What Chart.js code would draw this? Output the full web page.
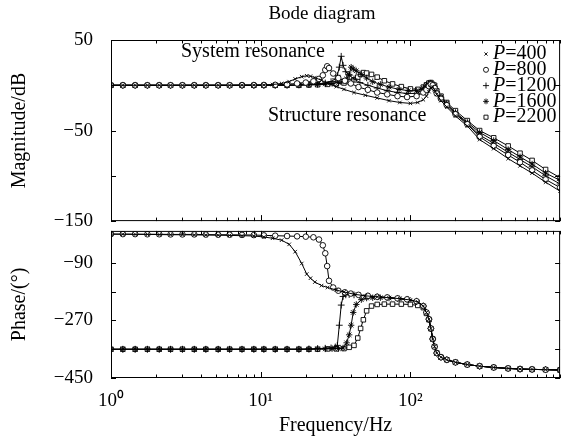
<!DOCTYPE html>
<html>
<head>
<meta charset="utf-8">
<script src="https://cdn.jsdelivr.net/npm/chart.js@4.4.0/dist/chart.umd.min.js"></script>
<style>
  html, body { margin: 0; padding: 0; background: #fff; }
  #wrap { position: relative; width: 565px; height: 436px; }
  canvas { position: absolute; left: 0; }
  #mag { top: 0; }
  #phase { top: 226px; }
</style>
</head>
<body>
<div id="wrap">
  <canvas id="mag" width="565" height="226"></canvas>
  <canvas id="phase" width="565" height="210"></canvas>
</div>
<script>
// load levels (legend)
const loads = [400, 800, 1200, 1600, 2200];

// frequency points (Hz) shared at both ends of the sweep
const lowFreq = [1, 1.2, 1.45, 1.75, 2.1, 2.5, 3, 3.6, 4.3, 5.2, 6.2, 7.5, 9];
const structFreq = [128, 133, 137, 141];
const tailFreq = [145, 150, 160, 175, 200, 240, 290, 360, 450, 540, 650, 800, 1000];

// P=400
const freq400 = [...lowFreq, 10.5, 12, 13.8, 15.5, 17, 18.8, 20.3, 21.5, 23, 25.5, 28, 32, 36, 42, 50, 60, 72, 85, 100, 112, 122, ...structFreq, ...tailFreq];
const mag400 = [0, 0, 0, 0, 0, 0, 0, 0, 0, 0, 0, 0.1, 0.2,
  0.3, 0.8, 2, 4, 7, 9.5, 10.5, 10, 8.5, 5.5, 2, -1.5, -4.5, -8, -11, -14, -17, -19, -20, -19, -16,
  -12, -7, -3, -2,
  -5, -10, -17, -24, -34, -45, -60, -70, -81, -89, -97, -107, -117];
const phase400 = [0, -0.5, -1, -1, -1.5, -2, -2, -2.5, -3, -3.5, -4, -5, -6,
  -9, -13, -19, -32, -55, -92, -125, -138, -150, -161, -167, -175, -181, -188, -193, -196, -199, -202, -206, -212, -225,
  -245, -266, -295, -328,
  -352, -372, -385, -393, -401, -408, -413, -417, -420, -422, -423, -424, -425];

// P=800
const freq800 = [...lowFreq, 10.5, 12.5, 15, 17.5, 20, 22.5, 24.5, 26, 27, 27.8, 28.6, 30.5, 33, 36.5, 40, 45, 52, 60, 70, 82, 95, 110, 122, ...structFreq, ...tailFreq];
const mag800 = [0, 0, 0, 0, 0, 0, 0, 0, 0, 0, 0, 0.1, 0.2,
  0.3, 0.5, 1, 2, 3, 4.5, 7, 11, 17, 21, 19, 13, 8, 5, 2, -2, -5, -8, -10, -12, -13, -12, -8,
  -5, -1, 1, 0,
  -3, -9, -15, -22, -32, -43, -57, -67, -77, -85, -94, -104, -113];
const phase800 = [0, 0, 0, -0.5, -0.5, -1, -1, -1, -1.5, -2, -2, -2.5, -3,
  -4, -5, -6, -7, -8, -10, -17, -35, -60, -100, -146, -167, -177, -182, -186, -190, -193, -196, -198, -201, -204, -210, -225,
  -245, -266, -295, -328,
  -352, -372, -385, -393, -401, -408, -413, -417, -420, -422, -423, -424, -425];

// P=1200
const freq1200 = [...lowFreq, 10.5, 12.5, 15, 18, 21, 24, 27, 29.5, 31.5, 32.5, 33.5, 34.5, 35.5, 37, 39, 42, 46, 52, 60, 70, 82, 95, 110, 122, ...structFreq, ...tailFreq];
const mag1200 = [0, 0, 0, 0, 0, 0, 0, 0, 0, 0, 0, 0, 0,
  0, 0, 0.2, 0.5, 1, 1.5, 2.5, 4, 7, 11, 20, 32, 22, 15, 11, 7, 3, 0, -3, -6, -8, -9, -9, -5,
  -2, 1, 2, 0,
  -2, -8, -14, -21, -31, -42, -55, -64, -74, -82, -90, -100, -109];
const phase1200 = [-360, -360, -360, -360, -360, -360, -360, -360, -360, -360, -360, -360, -360,
  -360, -360, -360, -360, -359, -358, -357, -356, -353, -348, -285, -222, -195, -190, -189, -190, -192, -194, -196, -198, -201, -204, -210, -225,
  -245, -266, -295, -328,
  -352, -372, -385, -393, -401, -408, -413, -417, -420, -422, -423, -424, -425];

// P=1600
const freq1600 = [...lowFreq, 10.5, 12.5, 15, 18, 21, 24, 27, 30, 33, 35.5, 37.5, 39, 40.2, 41.5, 43.5, 47, 51, 56, 63, 72, 84, 97, 110, 122, ...structFreq, ...tailFreq];
const mag1600 = [0, 0, 0, 0, 0, 0, 0, 0, 0, 0, 0, 0, 0,
  0, 0, 0, 0.3, 0.6, 1, 1.5, 2, 3, 4.5, 7, 12, 20, 18, 16, 12, 8, 4, 1, -2, -4.5, -6, -6, -3,
  0, 2, 2.5, 0.5,
  -1, -7, -13, -20, -30, -41, -52, -61, -71, -79, -87, -97, -105];
const phase1600 = [-360, -360, -360, -360, -360, -360, -360, -360, -360, -360, -360, -360, -360,
  -360, -360, -360, -360, -360, -359, -359, -358, -358, -356, -340, -315, -285, -245, -220, -205, -200, -199, -199, -200, -202, -205, -211, -225,
  -245, -266, -295, -328,
  -352, -372, -385, -393, -401, -408, -413, -417, -420, -422, -423, -424, -425];

// P=2200
const freq2200 = [...lowFreq, 10.5, 12.5, 15, 18, 21, 24, 28, 32, 36, 39, 42, 44.5, 46.5, 48.5, 51, 55, 60, 67, 76, 87, 100, 112, 122, ...structFreq, ...tailFreq];
const mag2200 = [0, 0, 0, 0, 0, 0, 0, 0, 0, 0, 0, 0, 0,
  0, 0, 0, 0, 0.3, 0.6, 1, 1.5, 2.5, 4, 6, 9, 12, 14, 13.5, 12, 9, 5, 1.5, -1.5, -4, -4.5, -2,
  0.5, 2.5, 3, 1,
  0, -6, -12, -19, -28, -39, -50, -58, -67, -75, -83, -93, -102];
const phase2200 = [-360, -360, -360, -360, -360, -360, -360, -360, -360, -360, -360, -360, -360,
  -360, -360, -360, -360, -360, -360, -359, -359, -358, -354, -348, -325, -295, -268, -240, -225, -220, -219, -219, -219, -220, -223, -230,
  -248, -268, -296, -328,
  -352, -372, -385, -393, -401, -408, -413, -417, -420, -422, -423, -424, -425];

// axis ticks
const decadeTicks = [1, 10, 100];
const decadeLabels = ['10\u2070', '10\u00b9', '10\u00b2'];
const magTicks = [-150, -100, -50, 0, 50];
const magLabelled = [50, -50, -150];
const phaseTicks = [-450, -360, -270, -180, -90];
const phaseLabelled = [-90, -270, -450];

const freqs = [freq400, freq800, freq1200, freq1600, freq2200];
const mags = [mag400, mag800, mag1200, mag1600, mag2200];
const phases = [phase400, phase800, phase1200, phase1600, phase2200];

const markerStyles = [
  { pointStyle: 'crossRot', pointRadius: 2.5 },
  { pointStyle: 'circle', pointRadius: 2.8 },
  { pointStyle: 'cross', pointRadius: 3.4 },
  { pointStyle: 'star', pointRadius: 3.2 },
  { pointStyle: 'rect', pointRadius: 3.2 },
];

const FONT = '"Liberation Serif", "Times New Roman", serif';
const fmtNum = v => (v < 0 ? '\u2212' + Math.abs(v) : String(v));

// minor/major tick positions on the log axis
const xTickValues = [];
decadeTicks.forEach(d => { for (let m = 1; m <= 9; m++) xTickValues.push(m * d); });
xTickValues.push(1000);

function makeDatasets(yValues) {
  return loads.map((p, i) => ({
    label: 'P=' + p,
    data: freqs[i].map((f, k) => ({ x: f, y: yValues[i][k] })),
    borderColor: '#000',
    borderWidth: 1,
    pointBorderColor: '#000',
    pointBackgroundColor: '#fff',
    pointBorderWidth: 0.9,
    pointStyle: markerStyles[i].pointStyle,
    pointRadius: markerStyles[i].pointRadius,
    tension: 0,
    fill: false,
  }));
}

// keep the plot box where it should be: no extra room for label overhang
function fixYAxis(s) {
  s.width = 111;
  s.paddingTop = 0;
  s.paddingBottom = 0;
}

// box around the plot with inward tick marks
const frameTicks = {
  id: 'frameTicks',
  afterDatasetsDraw(chart, args, opts) {
    const { ctx, chartArea: a, scales } = chart;
    ctx.save();
    ctx.strokeStyle = '#000';
    ctx.lineWidth = 1;
    ctx.strokeRect(a.left + 0.5, a.top + 0.5, a.right - a.left - 1, a.bottom - a.top - 1);
    ctx.beginPath();
    xTickValues.forEach(v => {
      const px = Math.round(scales.x.getPixelForValue(v)) + 0.5;
      const len = decadeTicks.includes(v) ? 6 : 3.5;
      ctx.moveTo(px, a.bottom); ctx.lineTo(px, a.bottom - len);
      ctx.moveTo(px, a.top); ctx.lineTo(px, a.top + len);
    });
    opts.yTicks.forEach(v => {
      const py = Math.round(scales.y.getPixelForValue(v)) + 0.5;
      ctx.moveTo(a.left, py); ctx.lineTo(a.left + 5, py);
      ctx.moveTo(a.right, py); ctx.lineTo(a.right - 5, py);
    });
    ctx.stroke();
    ctx.restore();
  }
};

// title, resonance notes and the legend of the magnitude plot
const notes = {
  id: 'notes',
  afterDraw(chart) {
    const ctx = chart.ctx;
    ctx.save();
    ctx.fillStyle = '#000';
    ctx.textBaseline = 'middle';
    ctx.textAlign = 'center';
    ctx.font = '19px ' + FONT;
    ctx.fillText('Bode diagram', 322, 14);
    ctx.textAlign = 'left';
    ctx.font = '20px ' + FONT;
    ctx.fillText('System resonance', 181, 52);
    ctx.fillText('Structure resonance', 268, 116);

    chart.data.datasets.forEach((ds, i) => {
      const y = 54 + i * 15.8;
      ctx.strokeStyle = '#000';
      ctx.fillStyle = '#fff';
      ctx.lineWidth = 0.9;
      Chart.helpers.drawPoint(ctx, { pointStyle: ds.pointStyle, radius: ds.pointRadius * 0.9, borderWidth: 0.9, rotation: 0 }, 486, y);
      ctx.fillStyle = '#000';
      ctx.font = 'italic 20px ' + FONT;
      ctx.fillText('P', 493, y);
      const w = ctx.measureText('P').width;
      ctx.font = '20px ' + FONT;
      ctx.fillText(ds.label.slice(1), 493 + w, y);
    });
    ctx.restore();
  }
};

Chart.defaults.font.family = FONT;
Chart.defaults.color = '#000';

new Chart(document.getElementById('mag'), {
  type: 'line',
  data: { datasets: makeDatasets(mags) },
  options: {
    responsive: false,
    animation: false,
    devicePixelRatio: 1,
    layout: { padding: { top: 40, right: 2, bottom: 3, left: 0 } },
    plugins: {
      legend: { display: false },
      tooltip: { enabled: false },
      frameTicks: { yTicks: magTicks },
    },
    scales: {
      x: { type: 'logarithmic', min: 1, max: 1000, display: false },
      y: {
        min: -150, max: 50,
        afterBuildTicks: s => { s.ticks = magTicks.map(v => ({ value: v })); },
        afterFit: fixYAxis,
        grid: { display: false, drawTicks: false },
        border: { display: false },
        ticks: {
          padding: 18, color: '#000', font: { size: 19 },
          callback: v => (magLabelled.includes(v) ? fmtNum(v) : ''),
        },
        title: { display: true, text: 'Magnitude/dB', color: '#000', font: { size: 20 }, padding: { top: 8, bottom: 0 } },
      },
    },
  },
  plugins: [frameTicks, notes],
});

new Chart(document.getElementById('phase'), {
  type: 'line',
  data: { datasets: makeDatasets(phases) },
  options: {
    responsive: false,
    animation: false,
    devicePixelRatio: 1,
    layout: { padding: { top: 2, right: 2, bottom: 0, left: 0 } },
    plugins: {
      legend: { display: false },
      tooltip: { enabled: false },
      frameTicks: { yTicks: phaseTicks },
    },
    scales: {
      x: {
        type: 'logarithmic', min: 1, max: 1000,
        afterBuildTicks: s => { s.ticks = decadeTicks.map(v => ({ value: v })); },
        afterFit: s => { s.height = 58; s.paddingLeft = 0; s.paddingRight = 0; },
        grid: { display: false, drawTicks: false },
        border: { display: false },
        ticks: {
          padding: 12, maxRotation: 0, autoSkip: false, color: '#000', font: { size: 19 },
          callback: v => decadeLabels[decadeTicks.indexOf(v)] || '',
        },
        title: { display: true, text: 'Frequency/Hz', color: '#000', font: { size: 20, lineHeight: 1 }, padding: { top: 0, bottom: 0 } },
      },
      y: {
        min: -450, max: 10,
        afterBuildTicks: s => { s.ticks = phaseTicks.map(v => ({ value: v })); },
        afterFit: fixYAxis,
        grid: { display: false, drawTicks: false },
        border: { display: false },
        ticks: {
          padding: 18, color: '#000', font: { size: 19 },
          callback: v => (phaseLabelled.includes(v) ? fmtNum(v) : ''),
        },
        title: { display: true, text: 'Phase/(\u00b0)', color: '#000', font: { size: 20 }, padding: { top: 8, bottom: 0 } },
      },
    },
  },
  plugins: [frameTicks],
});
</script>
</body>
</html>
